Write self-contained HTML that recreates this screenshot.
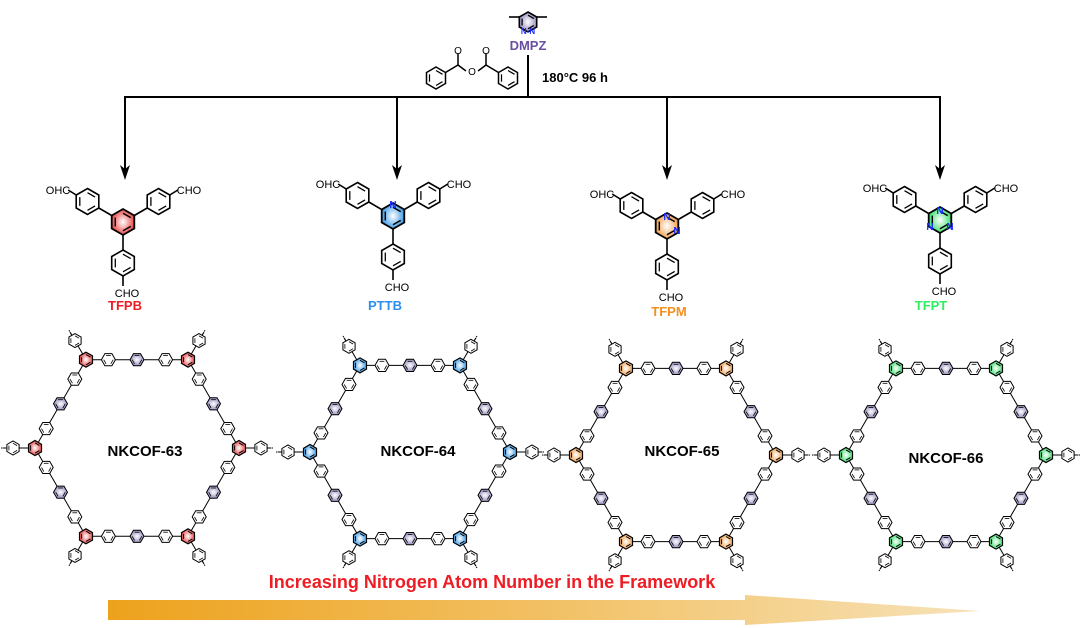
<!DOCTYPE html>
<html><head><meta charset="utf-8"><style>
html,body{margin:0;padding:0;background:#fff;}
svg{display:block;}
svg text{font-family:"Liberation Sans",Arial,sans-serif;}
</style></head><body>
<svg id="s" width="1080" height="628" viewBox="0 0 1080 628" xmlns="http://www.w3.org/2000/svg">
<defs>
<linearGradient id="ar" x1="0" x2="1" y1="0" y2="0">
<stop offset="0" stop-color="#eda21c"/><stop offset="0.5" stop-color="#f2c063"/><stop offset="1" stop-color="#f7e2b8"/>
</linearGradient>
<radialGradient id="gR"><stop offset="0" stop-color="#fff"/><stop offset="1" stop-color="#e84848"/></radialGradient>
<radialGradient id="gB"><stop offset="0" stop-color="#fff"/><stop offset="1" stop-color="#3d9be6"/></radialGradient>
<radialGradient id="gO"><stop offset="0" stop-color="#fff"/><stop offset="1" stop-color="#f0a050"/></radialGradient>
<radialGradient id="gG"><stop offset="0" stop-color="#fff"/><stop offset="1" stop-color="#3ee070"/></radialGradient>
<radialGradient id="gP"><stop offset="0" stop-color="#fff"/><stop offset="1" stop-color="#9a90c0"/></radialGradient>
</defs>
<g id="g"></g>
<g stroke="#000" stroke-width="2" fill="none">
<line x1="125" y1="97" x2="940" y2="97"/>
<line x1="528" y1="55" x2="528" y2="97"/>
<line x1="125" y1="96" x2="125" y2="170"/>
<line x1="397" y1="96" x2="397" y2="170"/>
<line x1="667" y1="96" x2="667" y2="170"/>
<line x1="940" y1="96" x2="940" y2="170"/>
</g>
<g fill="#000">
<path d="M120,165 L125,180 L130,165 L125,169 Z"/>
<path d="M392,165 L397,180 L402,165 L397,169 Z"/>
<path d="M662,165 L667,180 L672,165 L667,169 Z"/>
<path d="M935,165 L940,180 L945,165 L940,169 Z"/>
</g>
<text x="542" y="82" font-size="13" font-weight="bold">180°C  96 h</text>
<text x="528" y="50" font-size="13" font-weight="bold" fill="#6a4fa0" text-anchor="middle">DMPZ</text>
<text x="125" y="310" font-size="13" font-weight="bold" fill="#ee1c24" text-anchor="middle">TFPB</text>
<text x="385" y="310" font-size="13" font-weight="bold" fill="#2b8ff0" text-anchor="middle">PTTB</text>
<text x="669" y="316" font-size="13" font-weight="bold" fill="#f39020" text-anchor="middle">TFPM</text>
<text x="931" y="310" font-size="13" font-weight="bold" fill="#2cf060" text-anchor="middle">TFPT</text>
<text x="145" y="456" font-size="15" font-weight="bold" text-anchor="middle">NKCOF-63</text>
<text x="418" y="456" font-size="15" font-weight="bold" text-anchor="middle">NKCOF-64</text>
<text x="682" y="456" font-size="15" font-weight="bold" text-anchor="middle">NKCOF-65</text>
<text x="946" y="463" font-size="15" font-weight="bold" text-anchor="middle">NKCOF-66</text>
<path d="M108,600 L745,600 L745,595 L980,611 L745,625 L745,620 L108,620 Z" fill="url(#ar)"/>
<text x="492" y="588" font-size="18" font-weight="bold" fill="#ee1c24" text-anchor="middle">Increasing Nitrogen Atom Number in the Framework</text>
</svg>
<script>
var g=document.getElementById('g'),h='';
function hex(cx,cy,r,rot,fill,sw){var p=[];for(var i=0;i<6;i++){var a=(rot+60*i)*Math.PI/180;p.push((cx+r*Math.cos(a)).toFixed(1)+','+(cy+r*Math.sin(a)).toFixed(1));}
var s='<polygon points="'+p.join(' ')+'" fill="'+(fill||'#fff')+'" stroke="#000" stroke-width="'+sw+'"/>';
for(var i=0;i<6;i+=2){var a1=(rot+60*i)*Math.PI/180,a2=(rot+60*(i+1))*Math.PI/180,k=0.68;
s+='<line x1="'+(cx+k*r*Math.cos(a1)).toFixed(1)+'" y1="'+(cy+k*r*Math.sin(a1)).toFixed(1)+'" x2="'+(cx+k*r*Math.cos(a2)).toFixed(1)+'" y2="'+(cy+k*r*Math.sin(a2)).toFixed(1)+'" stroke="#000" stroke-width="'+(sw*0.8)+'"/>';}
return s;}
function ln(x1,y1,x2,y2,w,d){return '<line x1="'+x1.toFixed(1)+'" y1="'+y1.toFixed(1)+'" x2="'+x2.toFixed(1)+'" y2="'+y2.toFixed(1)+'" stroke="#000" stroke-width="'+w+'"'+(d?' stroke-dasharray="2,1.5"':'')+'/>';}
function tx(x,y,t,sz,c,anc){return '<text x="'+x+'" y="'+y+'" font-size="'+sz+'" fill="'+(c||'#000')+'" text-anchor="'+(anc||'middle')+'">'+t+'</text>';}
var mols=[[123,222,'url(#gR)',[]],[393,216,'url(#gB)',[[0,-12]]],[667,226,'url(#gO)',[[0,-10],[10,4]]],[940,220,'url(#gG)',[[0,-10],[-10,6],[10,6]]]];
mols.forEach(function(m){var cx=m[0],cy=m[1],r=13;
var dirs=[[-150,'OHC','end'],[-30,'CHO','start'],[90,'CHO','middle']];
dirs.forEach(function(d){var a=d[0]*Math.PI/180,c=Math.cos(a),s=Math.sin(a);
var rx=cx+c*41,ry=cy+s*41;h+=ln(cx+c*r,cy+s*r,rx-c*r,ry-s*r,1.6);h+=hex(rx,ry,r,-90,'#fff',1.6);
var ex=rx+c*r,ey=ry+s*r;
if(d[0]==90){h+=ln(ex,ey,ex,ey+10,1.6);h+=tx(ex+4,ey+21,'CHO',11);}else{var fx=ex+(d[0]<-90?-8:8),fy=ey-5;h+=ln(ex,ey,fx,fy,1.6);h+=tx(fx+(d[0]<-90?2:-1),fy+4,d[1],11,'#000',d[2]);}
});
h+=hex(cx,cy,r,-90,m[2],1.8);
m[3].forEach(function(n){h+='<text x="'+(cx+n[0])+'" y="'+(cy+n[1]+4)+'" font-size="10" font-weight="bold" fill="#1a2cff" text-anchor="middle">N</text>';});
});
h+=hex(528,22,10,-90,'url(#gP)',1.6);h+=ln(519.3,17,509,17,1.6);h+=ln(536.7,17,547,17,1.6);
h+='<text x="528" y="34" font-size="8" font-weight="bold" fill="#1a2cff" text-anchor="middle">N-N</text>';
h+=hex(436,78,11,-90,'#fff',1.5);h+=hex(508,78,11,-90,'#fff',1.5);
h+=ln(445.5,72.5,458,65,1.5)+ln(458,65,466,71,1.5)+ln(478,71,486,65,1.5)+ln(486,65,498.5,72.5,1.5)+ln(458,65,458,54,1.5)+ln(486,65,486,54,1.5);
h+=tx(458,54,'O',10)+tx(486,54,'O',10)+tx(472,75,'O',10);
var cofs=[[137,448,102,'url(#gR)'],[410,452,100,'url(#gB)'],[676,455,100,'url(#gO)'],[946,455,100,'url(#gG)']];
cofs.forEach(function(c){var cx=c[0],cy=c[1],R=c[2],V=[];
for(var i=0;i<6;i++){var a=i*60*Math.PI/180;V.push([cx+R*Math.cos(a),cy+R*Math.sin(a),a]);}
for(var i=0;i<6;i++){var A=V[i],B=V[(i+1)%6],rr=7;
var pts=[0.22,0.5,0.78];var pos=pts.map(function(t){return [A[0]+(B[0]-A[0])*t,A[1]+(B[1]-A[1])*t];});
h+=ln(A[0],A[1],B[0],B[1],1);
pos.forEach(function(p,k){h+=hex(p[0],p[1],rr,0,k==1?'url(#gP)':'#fff',1);});
}
V.forEach(function(v){var c2=Math.cos(v[2]),s2=Math.sin(v[2]);var px=v[0]+c2*22,py=v[1]+s2*22;
h+=ln(v[0],v[1],px+c2*10,py+s2*10,1);h+=ln(px+c2*7,py+s2*7,px+c2*12,py+s2*12,1,1);
h+=hex(px,py,7,30,'#fff',1);h+=hex(v[0],v[1],7.5,30,c[3],1.2);});
});
g.innerHTML=h;
</script>
</body></html>
